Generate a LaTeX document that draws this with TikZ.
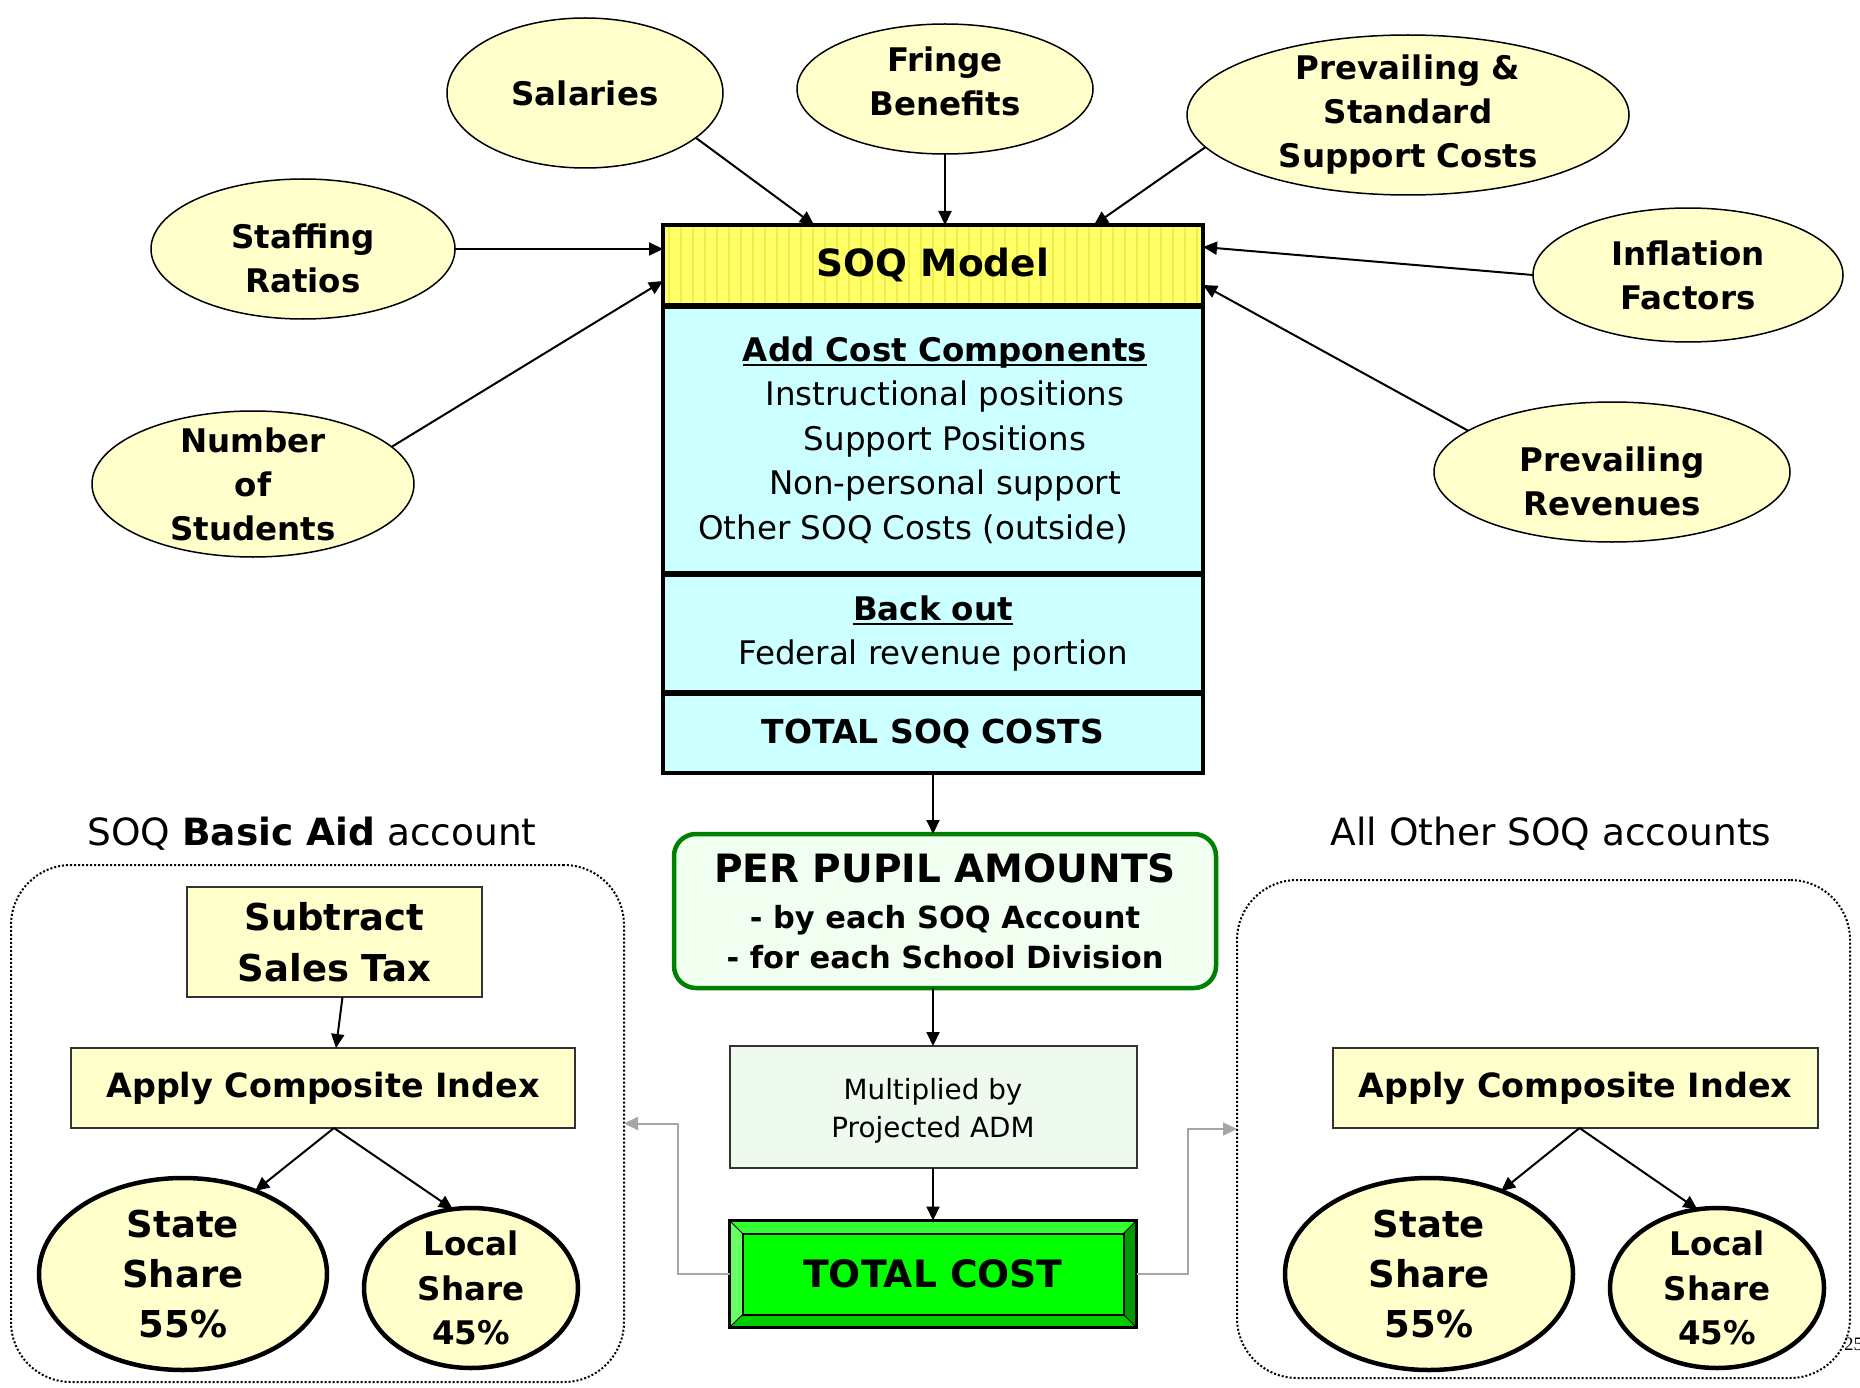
\documentclass[tikz,border=0pt]{standalone}
\usepackage{fontspec}
\setmainfont{DejaVu Sans}
\newfontfamily\pagefont{Liberation Serif}
\usepackage{tikz}
\usetikzlibrary{arrows.meta,positioning,shapes.geometric}
\usepackage{xcolor}
\definecolor{cream}{HTML}{FFFFCC}
\definecolor{soqyellow}{HTML}{FFFF66}
\definecolor{soqstripe}{HTML}{EEEE50}
\definecolor{soqcyan}{HTML}{CCFFFF}
\definecolor{pupilgreen}{HTML}{008000}
\definecolor{pupilfill}{HTML}{F0FFF0}
\definecolor{multfill}{HTML}{EEFAEE}
\definecolor{btnface}{HTML}{00FF00}
\definecolor{bevtop}{HTML}{33FF33}
\definecolor{bevleft}{HTML}{66FF66}
\definecolor{bevright}{HTML}{009900}
\definecolor{bevbot}{HTML}{00CC00}
\newcommand{\ruleunder}[1]{\setbox0=\hbox{#1}\rlap{\rule[-5pt]{\wd0}{2.5pt}}\box0}

\begin{document}
\begin{tikzpicture}[x=1pt,y=-1pt,>={Triangle[length=14pt,width=13pt]},
  every node/.style={inner sep=0pt,outer sep=0pt,align=center},
  factor/.style={ellipse,draw,line width=1.5pt,fill=cream,inner sep=-14pt,font=\fontsize{32.5}{44}\selectfont\bfseries},
  share/.style={ellipse,draw,line width=4.5pt,fill=cream,inner sep=-14pt},
  stackbox/.style={rectangle,draw,line width=4pt,minimum width=540pt,fill=soqcyan,font=\fontsize{32.5}{44.5}\selectfont},
  stepbox/.style={rectangle,draw=black!80,line width=1.5pt,fill=cream,font=\fontsize{33.4}{40}\selectfont\bfseries},
  panel/.style={draw,dotted,line width=2pt,rounded corners=60pt},
  title/.style={font=\fontsize{37.5}{44}\selectfont},
  link/.style={->,line width=2pt},
  greylink/.style={->,line width=2pt,draw=black!35}]
\useasboundingbox (0,0) rectangle (1860,1388);

% inputs to the model
\node[factor,minimum width=276pt,minimum height=150pt] (sal) at (585,93) {Salaries};
\node[factor,minimum width=296pt,minimum height=130pt] (fringe) at (945,89) {Fringe\\Benefits\\[-28pt]};
\node[factor,minimum width=442pt,minimum height=160pt] (psc) at (1408,115) {Prevailing \&\\Standard\\Support Costs};
\node[factor,minimum width=304pt,minimum height=140pt] (staff) at (303,249) {\\Staffing\\Ratios};
\node[factor,minimum width=310pt,minimum height=134pt] (infl) at (1688,275) {Inflation\\Factors};
\node[factor,minimum width=322pt,minimum height=146pt] (num) at (253,484) {Number\\of\\Students};
\node[factor,minimum width=356pt,minimum height=140pt] (prev) at (1612,472) {\\Prevailing\\Revenues};

% model stack
\node[stackbox,fill=soqyellow,minimum height=80pt,font=\fontsize{37.5}{44}\selectfont\bfseries,
  path picture={\foreach \i in {6,18,...,540}
    \draw[soqstripe,line width=2pt] ([xshift=\i pt]path picture bounding box.south west) -- ([xshift=\i pt]path picture bounding box.north west);}] (model) at (933,265) {SOQ Model};
\node[stackbox,minimum height=266pt,below=2pt of model] (costs) {\hspace*{24pt}\ruleunder{\bfseries Add Cost Components}\\\hspace*{24pt}Instructional positions\\\hspace*{24pt}Support Positions\\\hspace*{24pt}Non-personal support\\Other SOQ Costs (outside)\hspace*{40pt}};
\node[stackbox,minimum height=117pt,below=2pt of costs] (backout) {\ruleunder{\bfseries Back out}\\Federal revenue portion};
\node[stackbox,minimum height=79pt,below=2pt of backout,font=\fontsize{33}{40}\selectfont\bfseries] (soqtotal) {TOTAL SOQ COSTS};

\node[draw=pupilgreen,line width=4.5pt,rounded corners=22pt,fill=pupilfill,minimum width=542pt,minimum height=154pt,font=\fontsize{30.5}{40}\selectfont\bfseries] (pupil) at (945,911)
  {{\fontsize{39}{46}\selectfont PER PUPIL AMOUNTS}\\[6pt]- by each SOQ Account\\- for each School Division};
\node[draw=black!80,line width=2pt,fill=multfill,minimum width=407pt,minimum height=122pt,font=\fontsize{27.8}{38}\selectfont] (mult) at (933,1107) {\\[-10pt]Multiplied by\\Projected ADM};
\node[draw,line width=3pt,fill=btnface,minimum width=407pt,minimum height=107pt,font=\fontsize{37.7}{44}\selectfont\bfseries] (tcost) at (933,1274) {TOTAL COST};
\fill[bevtop] (tcost.north west) -- (tcost.north east) -- ([xshift=-13pt,yshift=-13pt]tcost.north east) -- ([xshift=13pt,yshift=-13pt]tcost.north west) -- cycle;
\fill[bevleft] (tcost.north west) -- (tcost.south west) -- ([xshift=13pt,yshift=13pt]tcost.south west) -- ([xshift=13pt,yshift=-13pt]tcost.north west) -- cycle;
\fill[bevright] (tcost.north east) -- (tcost.south east) -- ([xshift=-13pt,yshift=13pt]tcost.south east) -- ([xshift=-13pt,yshift=-13pt]tcost.north east) -- cycle;
\fill[bevbot] (tcost.south west) -- (tcost.south east) -- ([xshift=-13pt,yshift=13pt]tcost.south east) -- ([xshift=13pt,yshift=13pt]tcost.south west) -- cycle;
\draw[line width=1pt] (tcost.north west) -- ([xshift=13pt,yshift=-13pt]tcost.north west)
  (tcost.north east) -- ([xshift=-13pt,yshift=-13pt]tcost.north east)
  (tcost.south west) -- ([xshift=13pt,yshift=13pt]tcost.south west)
  (tcost.south east) -- ([xshift=-13pt,yshift=13pt]tcost.south east);
\draw[line width=2pt] ([xshift=13pt,yshift=-13pt]tcost.north west) rectangle ([xshift=-13pt,yshift=13pt]tcost.south east);
\draw[line width=3pt] (tcost.north west) rectangle (tcost.south east);

% the two account panels
\node[panel,minimum width=613pt,minimum height=517pt] (panelL) at (317.5,1123.5) {};
\node[panel,minimum width=613pt,minimum height=498pt] (panelR) at (1543.5,1129) {};
\node[title] (titleL) at (312,834) {SOQ \textbf{Basic Aid} account};
\node[title] (titleR) at (1551,834) {All Other SOQ accounts};

\node[stepbox,minimum width=295pt,minimum height=110pt,font=\fontsize{37}{51}\selectfont\bfseries] (sub) at (334.5,942) {Subtract\\Sales Tax};
\node[stepbox,minimum width=504pt,minimum height=80pt] (applyL) at (323,1088) {Apply Composite Index};
\node[share,minimum width=288pt,minimum height=192pt,font=\fontsize{37}{50}\selectfont\bfseries] (stateL) at (183,1274) {State\\Share\\55\%};
\node[share,minimum width=214pt,minimum height=160pt,font=\fontsize{32.5}{44.5}\selectfont\bfseries] (localL) at (471,1288) {Local\\Share\\45\%};

\node[stepbox,minimum width=485pt,minimum height=80pt] (applyR) at (1575.5,1088) {Apply Composite Index};
\node[share,minimum width=288pt,minimum height=192pt,font=\fontsize{37}{50}\selectfont\bfseries] (stateR) at (1429,1274) {State\\Share\\55\%};
\node[share,minimum width=214pt,minimum height=160pt,font=\fontsize{32.5}{44.5}\selectfont\bfseries] (localR) at (1717,1288) {Local\\Share\\45\%};

\node[anchor=base west,font=\fontsize{19}{22}\pagefont] (pageno) at (1844,1350) {25};

% connectors
\draw[link] (sal.338) -- ([xshift=-119pt]model.north);
\draw[link] (fringe.south) -- (fringe.south |- model.north);
\draw[link] (psc.189) -- ([xshift=161pt]model.north);
\draw[link] (staff.east) -- (staff.east -| model.west);
\draw[link] (num.15) -- ([yshift=-16pt]model.west);
\draw[link] (infl.west) -- ([yshift=18pt]model.east);
\draw[link] (prev.164) -- ([yshift=-20pt]model.east);

\draw[link] (soqtotal.south) -- (soqtotal.south |- pupil.north);
\draw[link] (mult.north |- pupil.south) -- (mult.north);
\draw[link] (mult.south) -- (tcost.north);

\draw[link] ([xshift=8pt]sub.south) -- ([xshift=13pt]applyL.north);
\draw[link] ([xshift=11pt]applyL.south) -- (stateL.49);
\draw[link] ([xshift=11pt]applyL.south) -- (localL.103);
\draw[link] ([xshift=4pt]applyR.south) -- (stateR.49);
\draw[link] ([xshift=4pt]applyR.south) -- (localR.104);

\draw[greylink] (tcost.west) -- ++(-52,0) |- (panelL.east);
\draw[greylink] (tcost.east) -- ++(51,0) |- (panelR.west);
\end{tikzpicture}
\end{document}
